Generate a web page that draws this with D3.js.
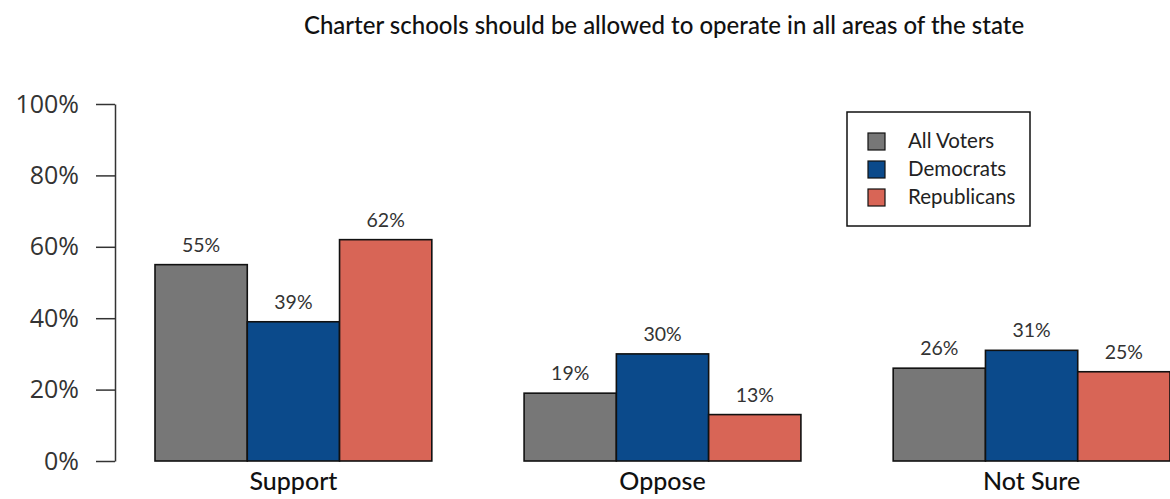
<!DOCTYPE html>
<html>
<head>
<meta charset="utf-8">
<script src="https://cdn.jsdelivr.net/npm/d3@7"></script>
<style>
    body { margin: 0; background: #fff; }
    svg { display: block; font-family: Lato, "Open Sans", sans-serif; }
    .y-axis text { font-family: "Open Sans", Lato, sans-serif; }
</style>
</head>
<body>
<svg id="chart"></svg>
<script>
// chart values
const categories = ['Support', 'Oppose', 'Not Sure'];
const seriesNames = ['All Voters', 'Democrats', 'Republicans'];
const allVoters = [55, 19, 26];
const democrats = [39, 30, 31];
const republicans = [62, 13, 25];
const yTicks = [0, 20, 40, 60, 80, 100];
const title = 'Charter schools should be allowed to operate in all areas of the state';

const colors = ['#777777', '#0b4a8b', '#d86556'];
const seriesValues = [allVoters, democrats, republicans];

const width = 1170, height = 499;
const svg = d3.select('#chart').attr('width', width).attr('height', height);

const yScale = d3.scaleLinear().domain([0, 100]).range([461, 104]);
const xGroup = d3.scaleBand().domain(categories).range([155, 1170]).paddingInner(0.25).paddingOuter(0);
const xSeries = d3.scaleBand().domain(seriesNames).range([0, xGroup.bandwidth()]).padding(0);

// title
svg.append('text')
    .attr('x', 664).attr('y', 34)
    .attr('text-anchor', 'middle')
    .style('font-size', '24px')
    .style('font-weight', 500)
    .attr('fill', '#111')
    .text(title);

// y axis
const yAxis = d3.axisLeft(yScale).tickValues(yTicks).tickSize(19).tickSizeOuter(0).tickPadding(17).tickFormat(d => d + '%');
const yAxisG = svg.append('g').attr('class', 'y-axis').attr('transform', 'translate(115,0)').call(yAxis);
yAxisG.select('.domain').attr('stroke', '#333').attr('stroke-width', 1.5);
yAxisG.selectAll('.tick line').attr('stroke', '#333').attr('stroke-width', 1.5);
yAxisG.selectAll('.tick text').style('font-size', '25px').attr('fill', '#333');

// table of bars
const table = [];
categories.forEach((c, i) => {
    seriesNames.forEach((s, j) => {
        table.push({ cat: c, series: s, value: seriesValues[j][i], color: colors[j] });
    });
});

const bars = svg.append('g');
bars.selectAll('rect').data(table).join('rect')
    .attr('x', d => xGroup(d.cat) + xSeries(d.series))
    .attr('y', d => yScale(d.value))
    .attr('width', xSeries.bandwidth())
    .attr('height', d => yScale(0) - yScale(d.value))
    .attr('fill', d => d.color)
    .attr('stroke', '#111')
    .attr('stroke-width', 1.6);

bars.selectAll('text').data(table).join('text')
    .attr('x', d => xGroup(d.cat) + xSeries(d.series) + xSeries.bandwidth() / 2)
    .attr('y', d => yScale(d.value) - 13)
    .attr('text-anchor', 'middle')
    .style('font-size', '19.5px')
    .attr('fill', '#333')
    .text(d => d.value + '%');

// category labels
svg.append('g').selectAll('text').data(categories).join('text')
    .attr('x', d => xGroup(d) + xGroup.bandwidth() / 2)
    .attr('y', 490)
    .attr('text-anchor', 'middle')
    .style('font-size', '25px')
    .style('font-weight', 500)
    .attr('fill', '#111')
    .text(d => d);

// legend
const legend = svg.append('g').attr('transform', 'translate(847,112)');
legend.append('rect')
    .attr('width', 183).attr('height', 114)
    .attr('fill', '#fff').attr('stroke', '#111').attr('stroke-width', 1.5);
const items = legend.selectAll('g').data(seriesNames).join('g')
    .attr('transform', (d, i) => `translate(21,${ 21 + i * 28 })`);
items.append('rect')
    .attr('width', 17).attr('height', 17)
    .attr('fill', (d, i) => colors[i])
    .attr('stroke', '#111').attr('stroke-width', 1.2);
items.append('text')
    .attr('x', 40).attr('y', 15)
    .style('font-size', '20.5px')
    .attr('fill', '#222')
    .text(d => d);
</script>
</body>
</html>
